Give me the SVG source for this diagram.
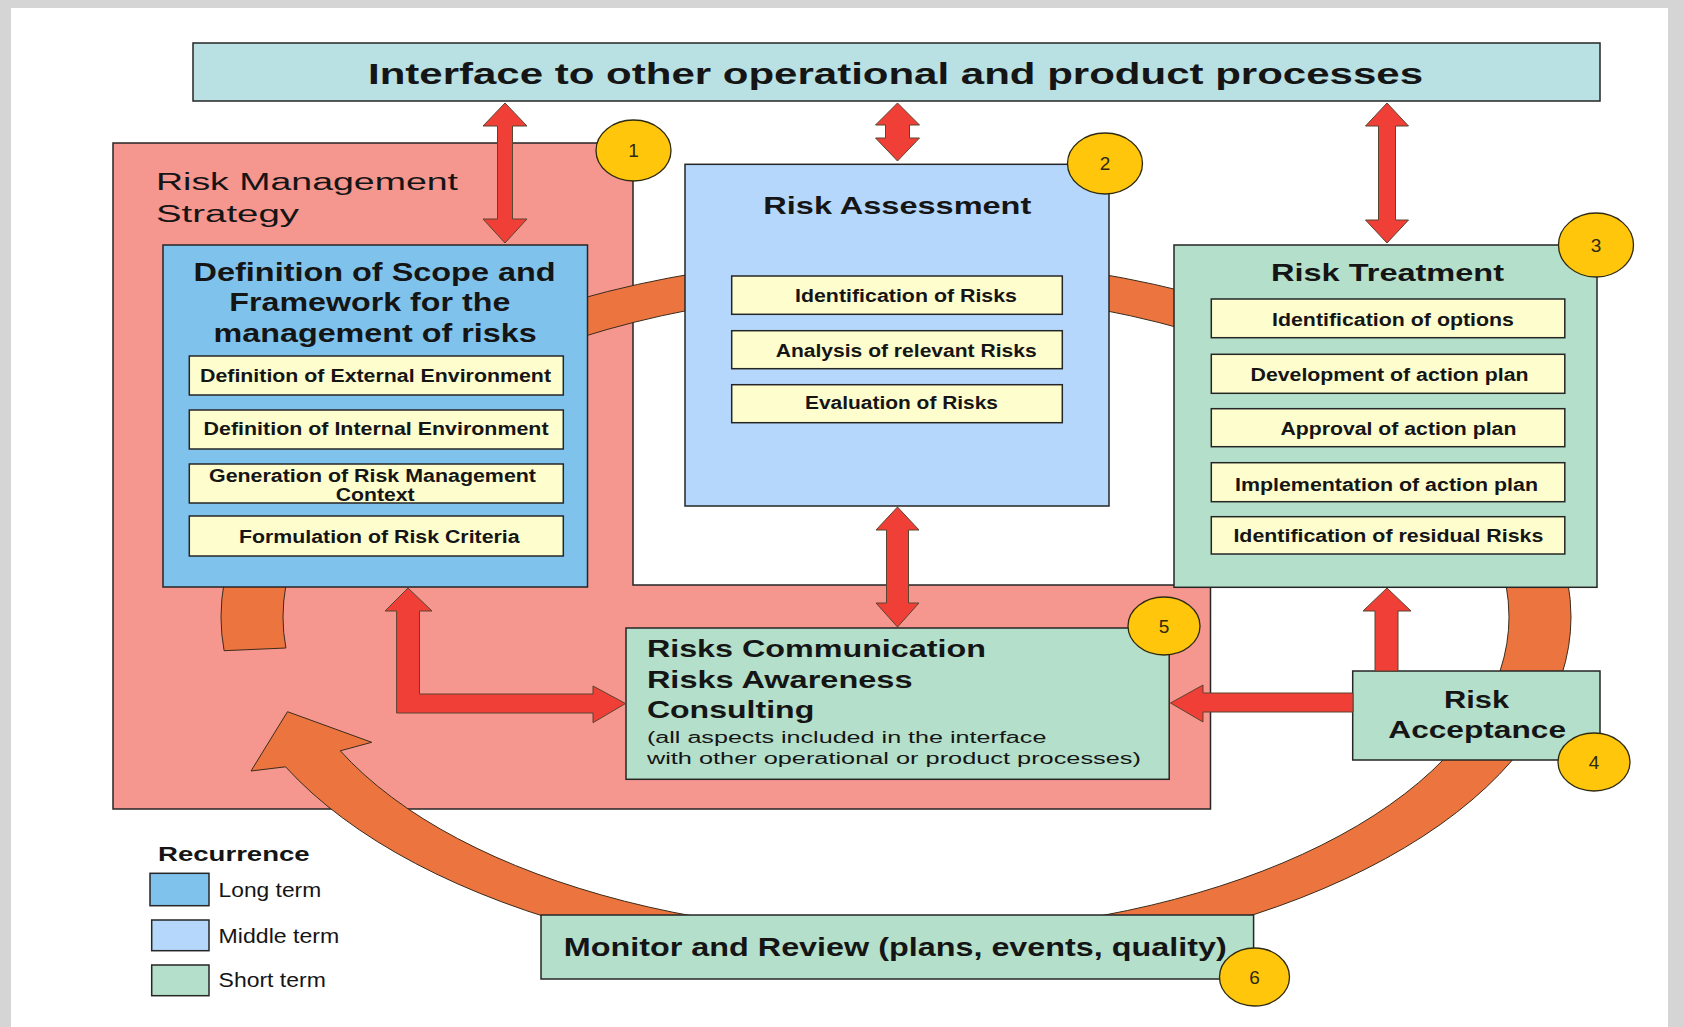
<svg xmlns="http://www.w3.org/2000/svg" width="1684" height="1027" viewBox="0 0 1684 1027">
<style>
text{font-family:"Liberation Sans",Arial,sans-serif;fill:#151515}
.b{font-weight:bold}
.box{stroke:#262626;stroke-width:1.5}
.pink{fill:#f5968f}
.long{fill:#7fc3ec}
.mid{fill:#b5d7fb}
.short{fill:#b4dfca}
.top{fill:#b9e0e2}
.sub{fill:#fefdcd;stroke:#262626;stroke-width:1.5}
.red{fill:#ef3f37;stroke:#5a4530;stroke-width:1}
.orange{fill:#ec743e;stroke:#3b2c1c;stroke-width:1}
.num{fill:#ffc60b;stroke:#2e2a10;stroke-width:1.3}
.n{font-size:19px;fill:#2e2a10;text-anchor:middle}
.st{font-size:18px;font-weight:bold}
</style>
<rect x="0" y="0" width="1684" height="1027" fill="#d5d5d5"/>
<rect x="11" y="8" width="1657" height="1019" fill="#ffffff"/>

<g id="strategy">
<path class="pink box" d="M113,143 H633 V585 H1210.5 V809 H113 Z"/>
<text x="156" y="190" font-size="23.5" textLength="302" lengthAdjust="spacingAndGlyphs">Risk Management</text>
<text x="156" y="222" font-size="23.5" textLength="143" lengthAdjust="spacingAndGlyphs">Strategy</text>
</g>

<g id="cycle">
<path class="orange" d="M224.1,650.7 A675,351 0 0 1 221,617 A675,360 0 0 1 1571,617 A675,351 0 0 1 285.6,766.8 L251,771 L287.5,711.7 L371.7,742.3 L340.3,750.8 A613,317 0 0 0 1509,617 A613,326 0 0 0 283,617 A613,317 0 0 0 285.9,648 Z"/>
</g>

<g id="interface">
<rect class="top box" x="193" y="43" width="1407" height="58"/>
<text class="b" x="368" y="84" font-size="29" textLength="1055" lengthAdjust="spacingAndGlyphs">Interface to other operational and product processes</text>
</g>

<g id="definition">
<rect class="long box" x="163" y="245" width="424.5" height="342"/>
<text class="b" x="193.6" y="280.7" font-size="25.5" textLength="362" lengthAdjust="spacingAndGlyphs">Definition of Scope and</text>
<text class="b" x="229.3" y="311.2" font-size="25.5" textLength="281" lengthAdjust="spacingAndGlyphs">Framework for the</text>
<text class="b" x="213.6" y="341.7" font-size="25.5" textLength="323" lengthAdjust="spacingAndGlyphs">management of risks</text>
<rect class="sub" x="189.3" y="356" width="374" height="39"/>
<text class="st" x="200" y="381.7" textLength="351" lengthAdjust="spacingAndGlyphs">Definition of External Environment</text>
<rect class="sub" x="189.3" y="410" width="374" height="39"/>
<text class="st" x="203.6" y="435" textLength="345" lengthAdjust="spacingAndGlyphs">Definition of Internal Environment</text>
<rect class="sub" x="189.3" y="464" width="374" height="39"/>
<text class="st" x="209" y="481.7" textLength="327" lengthAdjust="spacingAndGlyphs">Generation of Risk Management</text>
<text class="st" x="335.7" y="500.7" textLength="79" lengthAdjust="spacingAndGlyphs">Context</text>
<rect class="sub" x="189.3" y="516" width="374" height="40"/>
<text class="st" x="239" y="542.7" textLength="280.6" lengthAdjust="spacingAndGlyphs">Formulation of Risk Criteria</text>
</g>

<g id="assessment">
<rect class="mid box" x="685" y="164.3" width="424" height="341.7"/>
<text class="b" x="763.3" y="214" font-size="24" textLength="268" lengthAdjust="spacingAndGlyphs">Risk Assessment</text>
<rect class="sub" x="731.7" y="276" width="330.6" height="38.3"/>
<text class="st" x="795" y="301.7" textLength="222" lengthAdjust="spacingAndGlyphs">Identification of Risks</text>
<rect class="sub" x="731.7" y="330.7" width="330.6" height="38"/>
<text class="st" x="775.7" y="356.7" textLength="261" lengthAdjust="spacingAndGlyphs">Analysis of relevant Risks</text>
<rect class="sub" x="731.7" y="384.7" width="330.6" height="38"/>
<text class="st" x="805" y="409.3" textLength="193" lengthAdjust="spacingAndGlyphs">Evaluation of Risks</text>
</g>

<g id="treatment">
<rect class="short box" x="1174" y="245" width="423" height="342.3"/>
<text class="b" x="1271" y="281" font-size="24" textLength="233" lengthAdjust="spacingAndGlyphs">Risk Treatment</text>
<rect class="sub" x="1211.3" y="299" width="353.5" height="38.7"/>
<text class="st" x="1272" y="325.7" textLength="242" lengthAdjust="spacingAndGlyphs">Identification of options</text>
<rect class="sub" x="1211.3" y="354.3" width="353.5" height="39"/>
<text class="st" x="1250.5" y="381" textLength="278" lengthAdjust="spacingAndGlyphs">Development of action plan</text>
<rect class="sub" x="1211.3" y="408.7" width="353.5" height="38"/>
<text class="st" x="1280.4" y="435" textLength="236" lengthAdjust="spacingAndGlyphs">Approval of action plan</text>
<rect class="sub" x="1211.3" y="462.7" width="353.5" height="39"/>
<text class="st" x="1235" y="490.7" textLength="303" lengthAdjust="spacingAndGlyphs">Implementation of action plan</text>
<rect class="sub" x="1211.3" y="516.7" width="353.5" height="37.3"/>
<text class="st" x="1233.4" y="541.7" textLength="310" lengthAdjust="spacingAndGlyphs">Identification of residual Risks</text>
</g>

<g id="communication">
<rect class="short box" x="626" y="628" width="543.2" height="151.3"/>
<text class="b" x="646.9" y="656.7" font-size="23.5" textLength="339" lengthAdjust="spacingAndGlyphs">Risks Communication</text>
<text class="b" x="646.9" y="687.7" font-size="23.5" textLength="265.6" lengthAdjust="spacingAndGlyphs">Risks Awareness</text>
<text class="b" x="646.9" y="718.3" font-size="23.5" textLength="167.4" lengthAdjust="spacingAndGlyphs">Consulting</text>
<text x="646.9" y="743.3" font-size="16" textLength="399.5" lengthAdjust="spacingAndGlyphs">(all aspects included in the interface</text>
<text x="646.9" y="764" font-size="16" textLength="494" lengthAdjust="spacingAndGlyphs">with other operational or product processes)</text>
</g>

<g id="acceptance">
<rect class="short box" x="1352.7" y="671" width="247.3" height="89"/>
<text class="b" x="1444" y="708.3" font-size="23" textLength="65" lengthAdjust="spacingAndGlyphs">Risk</text>
<text class="b" x="1388.3" y="738.3" font-size="23" textLength="177.7" lengthAdjust="spacingAndGlyphs">Acceptance</text>
</g>

<g id="monitor">
<rect class="short box" x="541" y="915" width="712.6" height="64"/>
<text class="b" x="563.8" y="956" font-size="25" textLength="663" lengthAdjust="spacingAndGlyphs">Monitor and Review (plans, events, quality)</text>
</g>

<g id="legend">
<text class="b" x="158" y="861" font-size="21" textLength="151.7" lengthAdjust="spacingAndGlyphs">Recurrence</text>
<rect class="long box" x="150" y="873.3" width="59" height="32.4"/>
<text x="218.6" y="897.3" font-size="19.5" textLength="102.6" lengthAdjust="spacingAndGlyphs">Long term</text>
<rect class="mid box" x="151.7" y="920" width="57.3" height="30.7"/>
<text x="218.6" y="942.7" font-size="19.5" textLength="120.6" lengthAdjust="spacingAndGlyphs">Middle term</text>
<rect class="short box" x="151.7" y="965" width="57.3" height="30.7"/>
<text x="218.6" y="987.3" font-size="19.5" textLength="107.2" lengthAdjust="spacingAndGlyphs">Short term</text>
</g>

<g id="connectors">
<path class="red" d="M505,103 L527,126 L512.5,126 L512.5,219 L527,219 L505,243 L483,219 L497.5,219 L497.5,126 L483,126 Z"/>
<path class="red" d="M897.5,103 L919.5,125 L909.5,125 L909.5,138 L919.5,138 L897.5,161 L875.5,138 L885.5,138 L885.5,125 L875.5,125 Z"/>
<path class="red" d="M1387,103 L1408.5,126 L1395.5,126 L1395.5,220 L1408.5,220 L1387,243 L1365.5,220 L1378.5,220 L1378.5,126 L1365.5,126 Z"/>
<path class="red" d="M897.5,507 L919,530 L908.5,530 L908.5,603 L919,603 L897.5,627 L876,603 L886.5,603 L886.5,530 L876,530 Z"/>
<path class="red" d="M408,588 L432,611 L419.5,611 L419.5,694 L593,694 L593,686 L625.5,703.5 L593,722.7 L593,713 L396.6,713 L396.6,611 L385,611 Z"/>
<path class="red" d="M1170.5,703 L1203,685 L1203,693 L1353,693 L1353,712 L1203,712 L1203,722 Z"/>
<path class="red" d="M1387,588 L1411,611 L1398,611 L1398,671 L1375,671 L1375,611 L1363,611 Z"/>
</g>

<g id="markers">
<ellipse class="num" cx="633.5" cy="150.5" rx="37.5" ry="30.5"/>
<text class="n" x="633.5" y="157">1</text>
<ellipse class="num" cx="1105" cy="163.5" rx="37.5" ry="30.5"/>
<text class="n" x="1105" y="170">2</text>
<ellipse class="num" cx="1596" cy="245" rx="37.5" ry="32"/>
<text class="n" x="1596" y="251.5">3</text>
<ellipse class="num" cx="1594" cy="762" rx="36" ry="29"/>
<text class="n" x="1594" y="768.5">4</text>
<ellipse class="num" cx="1164" cy="626" rx="36" ry="29"/>
<text class="n" x="1164" y="632.5">5</text>
<ellipse class="num" cx="1254.5" cy="977" rx="35" ry="29"/>
<text class="n" x="1254.5" y="983.5">6</text>
</g>
</svg>
